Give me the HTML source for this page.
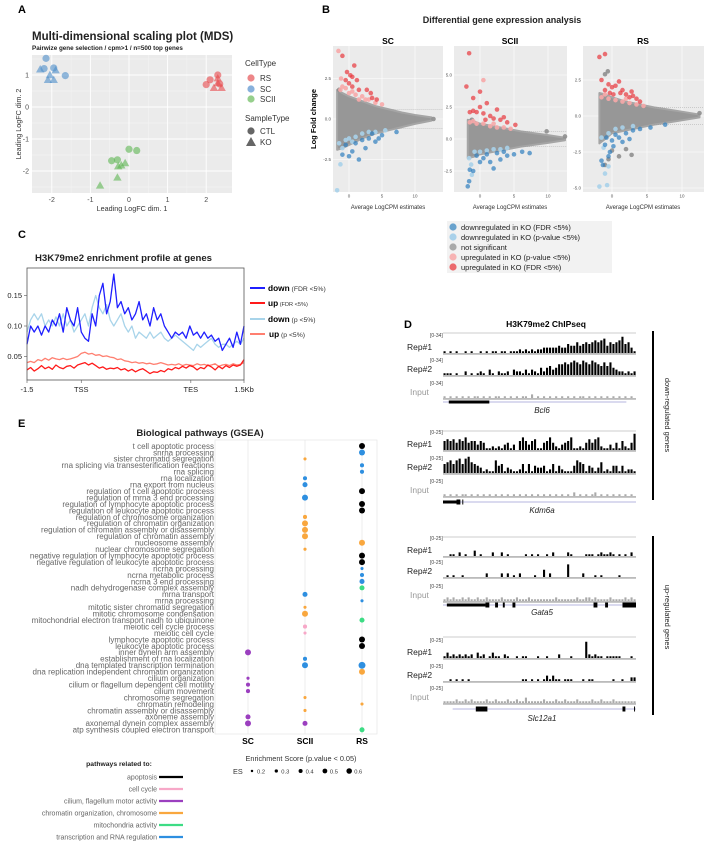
<!DOCTYPE html>
<html><head><meta charset="utf-8"><title>Figure</title>
<style>
html,body{margin:0;padding:0;background:#fff;}
svg{display:block;font-family:"Liberation Sans",Arial,sans-serif;}
</style></head>
<body>
<svg id="fig" width="709" height="846" viewBox="0 0 709 846" xmlns="http://www.w3.org/2000/svg">
<!-- Panel A -->
<g>
<text x="18" y="13" font-size="11" font-weight="bold">A</text>
<text x="32" y="40" font-size="11.5" font-weight="bold" fill="#222">Multi-dimensional scaling plot (MDS)</text>
<text x="32" y="50" font-size="6.3" font-weight="bold" fill="#222">Pairwize gene selection / cpm&gt;1 / n=500 top genes</text>
<rect x="32" y="55" width="200" height="138" fill="#ebebeb"/>
<g id="mdsGrid"></g>
<g id="mdsPts"></g>
<text x="132" y="211" font-size="7.2" fill="#333" text-anchor="middle">Leading LogFC dim. 1</text>
<text transform="translate(21,124) rotate(-90)" font-size="7.2" fill="#333" text-anchor="middle">Leading LogFC dim. 2</text>
<text x="245" y="66" font-size="8" fill="#333">CellType</text>
<circle cx="251" cy="78" r="3.6" fill="#e8686a" opacity="0.8"/>
<text x="260" y="81" font-size="8" fill="#333">RS</text>
<circle cx="251" cy="89" r="3.6" fill="#6a9ed3" opacity="0.8"/>
<text x="260" y="92" font-size="8" fill="#333">SC</text>
<circle cx="251" cy="99" r="3.6" fill="#7cc36f" opacity="0.8"/>
<text x="260" y="102" font-size="8" fill="#333">SCII</text>
<text x="245" y="121" font-size="8" fill="#333">SampleType</text>
<circle cx="251" cy="131" r="3.6" fill="#666"/>
<text x="260" y="134" font-size="8" fill="#333">CTL</text>
<polygon points="246,146 256,146 251,137" fill="#666"/>
<text x="260" y="145" font-size="8" fill="#333">KO</text>
</g>
<!-- Panel B -->
<g>
<text x="322" y="13" font-size="11" font-weight="bold">B</text>
<text x="502" y="23" font-size="9" font-weight="bold" fill="#222" text-anchor="middle">Differential gene expression analysis</text>
<text x="388" y="44" font-size="8.5" font-weight="bold" text-anchor="middle">SC</text>
<text x="510" y="44" font-size="8.5" font-weight="bold" text-anchor="middle">SCII</text>
<text x="643" y="44" font-size="8.5" font-weight="bold" text-anchor="middle">RS</text>
<g id="maPlots"></g>
<text transform="translate(316,119) rotate(-90)" font-size="7.5" font-weight="bold" text-anchor="middle">Log Fold change</text>
<text x="388" y="209" font-size="6" fill="#333" text-anchor="middle">Average LogCPM estimates</text>
<text x="510" y="209" font-size="6" fill="#333" text-anchor="middle">Average LogCPM estimates</text>
<text x="643" y="209" font-size="6" fill="#333" text-anchor="middle">Average LogCPM estimates</text>
<g>
<rect x="447" y="221" width="165" height="52" fill="#f2f2f2"/>
<circle cx="453" cy="227" r="3.6" fill="#3a87c0" opacity="0.75"/>
<text x="461" y="230" font-size="7.5" fill="#222">downregulated in KO (FDR &lt;5%)</text>
<circle cx="453" cy="237" r="3.6" fill="#a9d1ea"/>
<text x="461" y="240" font-size="7.5" fill="#222">downregulated in KO (p-value &lt;5%)</text>
<circle cx="453" cy="247" r="3.6" fill="#aaa"/>
<text x="461" y="250" font-size="7.5" fill="#222">not significant</text>
<circle cx="453" cy="257" r="3.6" fill="#f7b3b3"/>
<text x="461" y="260" font-size="7.5" fill="#222">upregulated in KO (p-value &lt;5%)</text>
<circle cx="453" cy="267" r="3.6" fill="#e8474b" opacity="0.8"/>
<text x="461" y="270" font-size="7.5" fill="#222">upregulated in KO (FDR &lt;5%)</text>
</g>
</g>
<!-- Panel C -->
<g>
<text x="18" y="238" font-size="11" font-weight="bold">C</text>
<text x="35" y="261" font-size="9.6" font-weight="bold" fill="#222">H3K79me2 enrichment profile at genes</text>
<g id="profile"></g>
<rect x="27" y="268" width="217" height="112" fill="none" stroke="#555" stroke-width="0.8"/>
<g>
<line x1="250" y1="288" x2="265" y2="288" stroke="#1f1fff" stroke-width="2"/>
<text x="268" y="291" font-size="8.3"><tspan font-weight="bold">down</tspan><tspan font-size="6.8" fill="#333"> (FDR &lt;5%)</tspan></text>
<line x1="250" y1="303" x2="265" y2="303" stroke="#ff1a1a" stroke-width="2"/>
<text x="268" y="306" font-size="8.3"><tspan font-weight="bold">up</tspan><tspan font-size="5.6" fill="#333"> (FDR &lt;5%)</tspan></text>
<line x1="250" y1="319" x2="265" y2="319" stroke="#a8d4ea" stroke-width="2"/>
<text x="268" y="322" font-size="8.3"><tspan font-weight="bold">down</tspan><tspan font-size="6.8" fill="#333"> (p &lt;5%)</tspan></text>
<line x1="250" y1="334" x2="265" y2="334" stroke="#ff7f70" stroke-width="2"/>
<text x="269" y="337" font-size="8.3"><tspan font-weight="bold">up</tspan><tspan font-size="6.8" fill="#333"> (p &lt;5%)</tspan></text>
</g>
</g>
<!-- Panel D -->
<g>
<text x="404" y="328" font-size="11" font-weight="bold">D</text>
<text x="546" y="327" font-size="8.5" font-weight="bold" text-anchor="middle">H3K79me2 ChIPseq</text>
<g id="tracks"></g>
<line x1="653" y1="331" x2="653" y2="500" stroke="#000" stroke-width="2"/>
<text transform="translate(665,415) rotate(90)" font-size="7.5" fill="#222" text-anchor="middle">down-regulated genes</text>
<line x1="653" y1="536" x2="653" y2="715" stroke="#000" stroke-width="2"/>
<text transform="translate(665,617) rotate(90)" font-size="7.5" fill="#222" text-anchor="middle">up-regulated genes</text>
</g>
<!-- Panel E -->
<g>
<text x="18" y="427" font-size="11" font-weight="bold">E</text>
<text x="200" y="436" font-size="9.5" font-weight="bold" fill="#222" text-anchor="middle">Biological pathways (GSEA)</text>
<rect x="215" y="440" width="162" height="294" fill="#fff" stroke="#e3e3e3" stroke-width="0.6"/>
<g id="gsea"></g>
<text x="248" y="744" font-size="8.5" font-weight="bold" text-anchor="middle">SC</text>
<text x="305" y="744" font-size="8.5" font-weight="bold" text-anchor="middle">SCII</text>
<text x="362" y="744" font-size="8.5" font-weight="bold" text-anchor="middle">RS</text>
<text x="301" y="761" font-size="7.3" fill="#333" text-anchor="middle">Enrichment Score (p.value &lt; 0.05)</text>
<text x="233" y="774" font-size="7.3" fill="#333">ES</text>
<g id="esLegend"></g>
<text x="119" y="766" font-size="6.8" font-weight="bold" fill="#222" text-anchor="middle">pathways related to:</text>
<g id="pwLegend"></g>
</g>
</svg>
<script>
// ---------- Data ----------
// MDS (panel A)
const mdsCell = ["SC","SC","SC","SC","SC","SC","SC","SC","SC","RS","RS","RS","RS","RS","RS","RS","RS","SCII","SCII","SCII","SCII","SCII","SCII","SCII","SCII","SCII"];
const mdsType = ["CTL","CTL","CTL","CTL","KO","KO","KO","KO","KO","CTL","CTL","CTL","CTL","KO","KO","KO","KO","CTL","CTL","CTL","CTL","KO","KO","KO","KO","KO"];
const mdsDim1 = [-2.15,-2.2,-1.65,-1.95,-2.3,-2.1,-1.95,-1.9,-2.05,2.3,2.1,2.0,2.35,2.3,2.4,2.2,2.3,0.0,0.2,-0.45,-0.3,-0.75,-0.3,-0.1,-0.28,-0.2];
const mdsDim2 = [1.52,1.2,0.98,1.22,1.18,0.85,0.85,1.15,1.0,1.0,0.85,0.7,0.72,0.75,0.6,0.6,0.9,-1.32,-1.36,-1.68,-1.65,-2.45,-2.2,-1.75,-1.85,-1.82];
const mdsXTicks = [-2,-1,0,1,2];
const mdsYTicks = [1,0,-1,-2];

// MA plots (panel B)
const maPanels = ["SC","SCII","RS"];
const cloudX = [-1.8,-1,0,2,4,6,8,10,12.5];
const cloudUpper = {SC:[1.8,1.6,1.4,1.1,0.8,0.6,0.4,0.25,0.1], SCII:[1.5,1.4,1.2,1.0,0.8,0.6,0.45,0.3,0.1], RS:[1.6,1.5,1.3,1.0,0.8,0.6,0.45,0.3,0.1]};
const cloudLower = {SC:[-1.9,-1.8,-1.6,-1.2,-0.9,-0.7,-0.5,-0.3,-0.1], SCII:[-1.5,-1.4,-1.2,-1.0,-0.8,-0.6,-0.45,-0.3,-0.1], RS:[-1.9,-1.6,-1.2,-1.0,-0.8,-0.6,-0.45,-0.3,-0.1]};
const maYTicks = {SC:[2.5,0,-2.5], SCII:[5,2.5,0,-2.5], RS:[2.5,0,-2.5,-5]};
const maXTicks = [0,5,10];
const grayX = {SC:[-1.5,12.8], SCII:[-1.2,9.8,12.5], RS:[-1,-0.6,1,2,2.8,-1,-0.5,0,12.5]};
const grayY = {SC:[1.8,0.0], SCII:[1.5,0.6,0.2], RS:[2.9,3.1,-2.8,-2.3,-2.7,-3.4,-3.0,-2.4,0.2]};
const upFdrX = {SC:[-1,0.8,-0.3,0.2,0.5,1.2,2.7,3.3,4.2,0,0.5,1.5,-0.5,3.5], SCII:[-1.6,-2,0,-1,-1,-0.5,0,1,0.5,1.5,2,3,3.5,4,5.2,-1.5,0.8,2.5], RS:[-1.8,-1,-1.5,-0.5,0,0.5,1,1.5,2,2.5,3,3.5,4,-1,0.2,1.2,2.8,-0.3]};
const upFdrY = {SC:[3.9,3.3,2.9,2.7,2.6,2.4,1.8,1.6,1.2,2.2,2.0,1.8,2.4,1.3], SCII:[6.7,4.1,3.7,3.2,2.2,2.1,2.5,2.8,2.0,1.8,1.6,1.5,1.7,1.3,1.1,2.1,1.5,2.3], RS:[4.1,4.3,2.5,2.2,2.0,2.1,2.4,1.8,1.5,1.3,1.4,1.2,1.0,1.8,1.5,1.6,1.7,1.6]};
const upPX = {SC:[-1.6,-1.2,-0.5,0.5,1,2,2.5,3,4,5,-1,0,1.5,-1.3], SCII:[0.5,-1.5,-0.5,0.5,1.5,2.5,3.5,4.5,-1,2], RS:[-1.5,-0.5,0.5,1.5,2.5,3.5,-1,4.5,2]};
const upPY = {SC:[4.2,2.5,1.9,1.7,1.5,1.4,1.2,1.2,1.0,0.9,2.0,1.6,1.2,1.8], SCII:[4.6,1.3,1.2,1.2,1.0,0.9,0.9,0.8,1.4,1.2], RS:[1.3,1.2,1.1,1.0,0.9,0.8,1.5,0.7,1.2]};
const downFdrX = {SC:[-1,0.5,1,2,3,4,5,7.2,-0.5,1.5,2.5,4.5,0,3.5], SCII:[-1.8,-1.6,-1.5,-1,0,0.5,1,2,3,4,5,6.2,7.3,-0.5,1.5,2.5,3.5], RS:[-1.5,-1.3,-0.5,-0.3,0,0.5,1,1.5,2,2.5,3,4,5.5,7.6,-1,-0.8,0.2]};
const downFdrY = {SC:[-2.2,-2,-1.5,-1.3,-1.2,-1.4,-1,-0.8,-1.6,-2.5,-1.8,-1.2,-2.3,-0.9], SCII:[-3.7,-3.3,-2.4,-2.5,-1.8,-1.5,-1.2,-2.3,-1.6,-1.3,-1.2,-1.0,-1.1,-1.3,-1.8,-1.1,-1.0], RS:[-3.1,-3.4,-2.8,-2.5,-1.7,-1.3,-1.5,-1.8,-1.2,-1.6,-1.0,-0.9,-0.8,-0.6,-2.0,-1.5,-2.1]};
const downPX = {SC:[-1.8,-1.3,-1,0,1,2,3,-0.5,-1.5,0.5,4,5.5], SCII:[-1.2,-1.6,-0.8,0,1,2,3,4,-1.3], RS:[-1.8,-0.7,-1,-0.5,-1.2,-0.5,0.5,1.5,3,-1.5]};
const downPY = {SC:[-4.4,-2.8,-1.8,-1.2,-1.1,-0.9,-0.8,-1.3,-1.5,-1.4,-0.8,-0.7], SCII:[-2.8,-1.5,-1.0,-1.0,-0.9,-0.8,-0.8,-0.7,-2.0], RS:[-4.9,-4.8,-4.0,-3.5,-2.2,-1.2,-0.9,-0.8,-0.7,-1.5]};

// Profile (panel C)
const profDownFdr = [0.07,0.10,0.09,0.10,0.085,0.10,0.09,0.11,0.10,0.12,0.09,0.13,0.11,0.10,0.13,0.09,0.08,0.075,0.12,0.10,0.15,0.17,0.12,0.14,0.185,0.13,0.14,0.12,0.13,0.11,0.12,0.14,0.11,0.12,0.10,0.13,0.11,0.12,0.10,0.09,0.08,0.09,0.085,0.09,0.08,0.10,0.085,0.09,0.08,0.09,0.08,0.085,0.075,0.08,0.06,0.07,0.08,0.065,0.09,0.07,0.10];
const profDownP = [0.09,0.11,0.12,0.11,0.12,0.10,0.11,0.10,0.115,0.10,0.12,0.10,0.11,0.09,0.10,0.11,0.12,0.10,0.13,0.15,0.13,0.12,0.135,0.11,0.10,0.11,0.12,0.10,0.09,0.10,0.08,0.09,0.085,0.08,0.09,0.08,0.085,0.09,0.08,0.075,0.08,0.085,0.08,0.075,0.07,0.065,0.06,0.07,0.065,0.07,0.075,0.08,0.07,0.065,0.07,0.07,0.065,0.07,0.075,0.07,0.08];
const profUpP = [0.04,0.042,0.04,0.045,0.043,0.047,0.044,0.048,0.046,0.045,0.047,0.045,0.046,0.048,0.05,0.055,0.057,0.054,0.055,0.052,0.053,0.05,0.051,0.049,0.048,0.045,0.046,0.043,0.042,0.04,0.041,0.039,0.04,0.038,0.039,0.037,0.038,0.04,0.038,0.036,0.037,0.036,0.038,0.035,0.037,0.036,0.035,0.038,0.036,0.037,0.035,0.036,0.038,0.034,0.036,0.037,0.035,0.038,0.036,0.037,0.04];
const profUpFdr = [0.028,0.032,0.026,0.03,0.035,0.03,0.033,0.029,0.036,0.032,0.03,0.034,0.035,0.031,0.036,0.038,0.04,0.036,0.039,0.035,0.031,0.033,0.029,0.031,0.03,0.032,0.028,0.03,0.026,0.029,0.025,0.028,0.03,0.026,0.022,0.025,0.024,0.027,0.025,0.03,0.028,0.032,0.03,0.034,0.031,0.035,0.033,0.028,0.032,0.03,0.036,0.033,0.028,0.034,0.03,0.035,0.032,0.036,0.034,0.036,0.045];
const profYTicks = [0.15,0.10,0.05];
const profXLabels = ["-1.5","TSS","TES","1.5Kb"];
const profXPos = [0,0.25,0.755,1];

// ChIP tracks (panel D) — bar heights 0-9
const trackGenes = ["Bcl6","Kdm6a","Gata5","Slc12a1"];
const trackRanges = ["[0-34]","[0-25]","[0-25]","[0-25]"];
const rep1Heights = [
 [1,0,1,0,1,0,0,1,0,1,0,0,1,0,1,0,1,1,0,1,1,0,1,1,1,2,1,2,1,2,1,2,2,3,3,3,3,3,4,3,3,5,4,4,6,4,5,6,5,6,7,6,7,8,4,6,5,6,7,9,5,6,3,1],
 [5,6,5,6,4,6,5,7,4,5,5,3,5,4,1,1,2,1,2,1,3,4,1,3,0,5,7,5,3,5,6,1,1,4,5,7,4,2,1,3,4,5,7,1,1,2,1,4,6,4,6,7,2,1,1,3,1,4,1,5,2,1,4,9],
 [0,0,1,1,0,2,0,1,0,0,3,0,1,0,0,0,2,0,0,2,0,1,0,0,0,0,0,1,0,1,0,1,0,0,1,0,2,0,0,0,0,2,1,0,0,0,0,1,1,1,0,1,2,1,1,2,1,0,1,0,1,0,2,0],
 [1,3,1,2,1,2,1,2,1,2,0,3,1,2,0,1,3,1,1,0,2,1,0,0,1,0,1,1,0,0,0,1,0,0,1,0,0,0,2,0,0,0,1,0,0,0,0,9,2,1,2,1,1,0,1,1,1,1,1,0,0,0,1,0]];
const rep2Heights = [
 [1,1,1,0,1,0,0,2,0,1,0,1,2,1,0,3,1,0,2,1,1,2,0,3,2,2,1,3,1,3,2,1,4,2,4,5,3,4,6,6,7,6,7,8,7,6,8,7,6,8,7,6,5,7,5,7,4,3,2,2,1,2,1,2],
 [5,6,7,5,7,8,5,8,9,6,5,4,3,1,2,1,1,7,4,5,1,3,2,1,1,2,5,1,5,1,4,3,3,4,1,2,5,1,4,2,1,1,1,4,7,6,5,1,4,3,1,3,6,1,2,1,4,4,1,4,1,2,2,1],
 [0,1,0,1,0,0,1,0,0,0,0,0,0,0,2,0,0,0,0,2,0,2,0,1,0,2,0,0,0,0,1,0,0,4,0,2,0,0,0,0,0,7,0,0,0,0,2,0,0,0,1,0,1,0,0,0,0,0,1,0,0,0,0,0],
 [0,0,1,0,1,0,1,0,1,0,0,0,0,0,0,0,0,0,0,0,0,0,0,0,0,0,1,1,0,1,0,1,0,1,3,1,3,1,1,0,1,1,1,0,0,0,1,0,1,1,0,0,0,0,0,0,1,0,0,1,0,0,2,2]];
const inputHeights = [
 [1,0,1,0,1,0,1,0,1,0,1,1,0,1,0,1,0,1,1,0,1,0,1,0,1,0,1,1,0,2,0,1,0,1,0,1,0,1,0,1,0,1,0,1,0,1,1,0,1,0,1,0,1,0,1,0,1,0,1,0,1,0,1,0],
 [1,0,1,0,1,0,1,1,0,1,0,1,0,1,0,1,0,1,0,1,0,1,0,1,0,1,0,1,0,1,0,1,0,1,0,1,0,1,0,1,0,1,0,2,0,1,0,1,0,1,2,0,1,0,1,0,1,0,1,0,1,0,1,0],
 [1,2,1,2,1,1,2,1,2,1,1,2,1,1,2,1,1,1,1,2,1,1,1,1,2,1,1,1,2,1,1,1,1,1,1,1,1,2,1,1,1,1,1,1,2,1,1,2,2,1,2,1,1,1,1,2,1,1,1,1,2,1,2,1],
 [1,1,1,1,2,1,1,2,1,2,1,1,1,1,2,1,1,2,1,1,1,2,1,1,2,1,1,3,1,1,1,1,1,2,1,1,1,2,1,1,2,1,1,1,2,1,1,1,1,2,1,1,2,1,1,1,2,1,1,1,1,1,1,1]];

// GSEA (panel E)
const gseaTerms = ["t cell apoptotic process","snrna processing","sister chromatid segregation","rna splicing via transesterification reactions","rna splicing","rna localization","rna export from nucleus","regulation of t cell apoptotic process","regulation of mrna 3 end processing","regulation of lymphocyte apoptotic process","regulation of leukocyte apoptotic process","regulation of chromosome organization","regulation of chromatin organization","regulation of chromatin assembly or disassembly","regulation of chromatin assembly","nucleosome assembly","nuclear chromosome segregation","negative regulation of lymphocyte apoptotic process","negative regulation of leukocyte apoptotic process","ncrna processing","ncrna metabolic process","ncrna 3 end processing","nadh dehydrogenase complex assembly","mrna transport","mrna processing","mitotic sister chromatid segregation","mitotic chromosome condensation","mitochondrial electron transport nadh to ubiquinone","meiotic cell cycle process","meiotic cell cycle","lymphocyte apoptotic process","leukocyte apoptotic process","inner dynein arm assembly","establishment of rna localization","dna templated transcription termination","dna replication independent chromatin organization","cilium organization","cilium or flagellum dependent cell motility","cilium movement","chromosome segregation","chromatin remodeling","chromatin assembly or disassembly","axoneme assembly","axonemal dynein complex assembly","atp synthesis coupled electron transport"];
const gseaCols = ["SC","SCII","RS"];
const dotTerm = [0,1,2,3,4,5,6,7,8,9,10,11,12,13,14,15,16,17,18,19,20,21,22,23,24,25,26,27,28,29,30,31,32,33,34,34,35,36,37,38,39,40,41,42,43,43,44];
const dotCol = ["RS","RS","SCII","RS","RS","SCII","SCII","RS","SCII","RS","RS","SCII","SCII","SCII","SCII","RS","SCII","RS","RS","RS","RS","RS","RS","SCII","RS","SCII","SCII","RS","SCII","SCII","RS","RS","SC","SCII","SCII","RS","RS","SC","SC","SC","SCII","RS","SCII","SC","SC","SCII","RS"];
const dotES = [0.5,0.5,0.2,0.3,0.3,0.3,0.4,0.5,0.5,0.5,0.5,0.3,0.5,0.5,0.5,0.5,0.2,0.5,0.5,0.2,0.3,0.4,0.4,0.4,0.2,0.2,0.5,0.4,0.3,0.2,0.5,0.5,0.5,0.3,0.5,0.6,0.5,0.2,0.3,0.3,0.2,0.2,0.2,0.4,0.5,0.4,0.4];
const dotCat = ["apoptosis","transcription","chromatin","transcription","transcription","transcription","transcription","apoptosis","transcription","apoptosis","apoptosis","chromatin","chromatin","chromatin","chromatin","chromatin","chromatin","apoptosis","apoptosis","transcription","transcription","transcription","mito","transcription","transcription","chromatin","chromatin","mito","cellcycle","cellcycle","apoptosis","apoptosis","cilium","transcription","transcription","transcription","chromatin","cilium","cilium","cilium","chromatin","chromatin","chromatin","cilium","cilium","cilium","mito"];
const esLegendValues = [0.2,0.3,0.4,0.5,0.6];
const pathwayKeys = ["apoptosis","cellcycle","cilium","chromatin","mito","transcription"];
const pathwayLabels = ["apoptosis","cell cycle","cilium, flagellum motor activity","chromatin organization, chromosome","mitochondria activity","transcription and RNA regulation"];

// ---------- Helpers ----------
const NS = "http://www.w3.org/2000/svg";
function mk(tag, attrs, parent){ const e=document.createElementNS(NS,tag); for(const k in attrs) e.setAttribute(k,attrs[k]); parent.appendChild(e); return e; }
function byId(id){ return document.getElementById(id); }

// ---------- Panel A ----------
(function(){
  const g=byId('mdsGrid'), p=byId('mdsPts');
  const sx=v=>129+v*38.6, sy=v=>107-v*32;
  [-1.5,-0.5,0.5,1.5].forEach(v=>{ const l=mk('line',{x1:sx(v),x2:sx(v),y1:55,y2:193,stroke:'#f5f5f5','stroke-width':0.5},g);   });
  [1.5,0.5,-0.5,-1.5,-2.5].forEach(v=>{ const l=mk('line',{x1:32,x2:232,y1:sy(v),y2:sy(v),stroke:'#f5f5f5','stroke-width':0.5},g);   });
  mdsXTicks.forEach(v=>{
    const l=mk('line',{x1:sx(v),x2:sx(v),y1:55,y2:193,stroke:'#fff','stroke-width':0.9},g);
     
    const t=mk('text',{x:sx(v),y:202,'font-size':7,fill:'#4d4d4d','text-anchor':'middle'},g); t.textContent=v;
     
  });
  mdsYTicks.forEach(v=>{
    const l=mk('line',{x1:32,x2:232,y1:sy(v),y2:sy(v),stroke:'#fff','stroke-width':0.9},g);
     
    const t=mk('text',{x:29,y:sy(v)+2.5,'font-size':7,fill:'#4d4d4d','text-anchor':'end'},g); t.textContent=v;
     
  });
  const col={RS:'#e8474b',SC:'#4d8ec9',SCII:'#5db552'};
  mdsDim1.forEach((d1,i)=>{
    const x=sx(d1), y=sy(mdsDim2[i]); let e;
    if(mdsType[i]==='CTL') e=mk('circle',{cx:x,cy:y,r:3.6,fill:col[mdsCell[i]],opacity:0.6},p);
    else e=mk('polygon',{points:`${x-4.2},${y+3.2} ${x+4.2},${y+3.2} ${x},${y-4.2}`,fill:col[mdsCell[i]],opacity:0.6},p);
     
  });
})();

// ---------- Panel B ----------
(function(){
  const root=byId('maPlots');
  const geo={
    SC:{x0:333,x1:443,y0:46,y1:192,cx:349,kx:6.6,cy:119,ky:16.2},
    SCII:{x0:454,x1:567,y0:46,y1:192,cx:480,kx:6.8,cy:139,ky:12.8},
    RS:{x0:583,x1:704,y0:46,y1:192,cx:612,kx:7.0,cy:116,ky:14.4}};
  maPanels.forEach(pn=>{
    const G=geo[pn]; const sx=v=>G.cx+v*G.kx, sy=v=>G.cy-v*G.ky;
    const g=mk('g',{},root);  
    const bg=mk('rect',{x:G.x0,y:G.y0,width:G.x1-G.x0,height:G.y1-G.y0,fill:'#ebebeb'},g);
     
    maYTicks[pn].forEach(v=>{
      const l=mk('line',{x1:G.x0,x2:G.x1,y1:sy(v),y2:sy(v),stroke:'#fff','stroke-width':0.6},g);
       
      const t=mk('text',{x:G.x0-2,y:sy(v)+1.5,'font-size':4.5,fill:'#555','text-anchor':'end'},g); t.textContent=v.toFixed(1);
       
    });
    maXTicks.forEach(v=>{
      const l=mk('line',{x1:sx(v),x2:sx(v),y1:G.y0,y2:G.y1,stroke:'#fff','stroke-width':0.6},g);
       
      const t=mk('text',{x:sx(v),y:G.y1+5.5,'font-size':4.5,fill:'#555','text-anchor':'middle'},g); t.textContent=v;
       
    });
    let d='M'+cloudX.map((x,i)=>sx(x)+','+sy(cloudUpper[pn][i])).join(' L');
    for(let i=cloudX.length-1;i>=0;i--) d+=' L'+sx(cloudX[i])+','+sy(cloudLower[pn][i]);
    d+=' Z';
    const c=mk('path',{d:d,fill:'#979797',stroke:'#a5a5a5','stroke-width':2,'stroke-linejoin':'round'},g);
     
    const dash1=mk('line',{x1:sx(6),x2:G.x1,y1:sy(0.6),y2:sy(0.6),stroke:'#999','stroke-width':0.4,'stroke-dasharray':'1,1'},g);
     
    const dash2=mk('line',{x1:sx(6),x2:G.x1,y1:sy(-0.6),y2:sy(-0.6),stroke:'#999','stroke-width':0.4,'stroke-dasharray':'1,1'},g);
     
    const sets=[[grayX,grayY,'#8f8f8f',0.9,'ma-point-ns'],[upPX,upPY,'#f7a9a8',0.9,'ma-point-up-p'],[downPX,downPY,'#a9d1ea',0.9,'ma-point-down-p'],[upFdrX,upFdrY,'#e8383d',0.7,'ma-point-up-fdr'],[downFdrX,downFdrY,'#2f7fbf',0.7,'ma-point-down-fdr']];
    sets.forEach(s=>{
      s[0][pn].forEach((xv,i)=>{
        const e=mk('circle',{cx:sx(xv),cy:sy(s[1][pn][i]),r:2.3,fill:s[2],opacity:s[3]},g);
         
      });
    });
  });
})();

// ---------- Panel C ----------
(function(){
  const g=byId('profile');
  const X0=27,W=217; const sy=v=>326-(v-0.10)*610;
  profYTicks.forEach(v=>{
    const t=mk('text',{x:22,y:sy(v)+2.5,'font-size':7.5,fill:'#222','text-anchor':'end'},g); t.textContent=v.toFixed(2);
     
    const k=mk('line',{x1:24,x2:27,y1:sy(v),y2:sy(v),stroke:'#555','stroke-width':0.6},g);
     
  });
  profXLabels.forEach((s,i)=>{
    const x=X0+profXPos[i]*W;
    const t=mk('text',{x:x,y:392,'font-size':7.5,fill:'#222','text-anchor':'middle'},g); t.textContent=s;
     
    const k=mk('line',{x1:x,x2:x,y1:380,y2:383,stroke:'#555','stroke-width':0.6},g);
     
  });
  const series=[[profUpP,'#ff7f70','profile-line-up-p'],[profUpFdr,'#ff1a1a','profile-line-up-fdr'],[profDownP,'#a8d4ea','profile-line-down-p'],[profDownFdr,'#1f1fff','profile-line-down-fdr']];
  series.forEach(s=>{
    const arr=s[0]; const n=arr.length-1;
    const pts=arr.map((v,i)=>(X0+i/n*W).toFixed(1)+','+sy(v).toFixed(1)).join(' ');
    const l=mk('polyline',{points:pts,fill:'none',stroke:s[1],'stroke-width':1.3,'stroke-linejoin':'round'},g);
     
  });
})();

// ---------- Panel D ----------
(function(){
  const root=byId('tracks');
  const X0=443,X1=636;
  const layout=[
    {top:333,r1:353,r2:375,inp:398,gene:402,lab:413},
    {top:431,r1:450,r2:473,inp:496,gene:502,lab:513},
    {top:537,r1:556,r2:577,inp:601,gene:605,lab:615},
    {top:637,r1:658,r2:681,inp:703,gene:709,lab:721}];
  const geneBlocks=[
    [[0.03,0.24,3]],
    [[0,0.07,3],[0.07,0.09,5],[0.1,0.105,5]],
    [[0.02,0.22,3],[0.22,0.24,5],[0.27,0.285,5],[0.31,0.32,5],[0.36,0.375,5],[0.78,0.8,5],[0.84,0.855,5],[0.93,1,5]],
    [[0.17,0.23,5],[0.93,0.945,5],[0.99,0.995,5]]];
  trackGenes.forEach((gn,k)=>{
    const L=layout[k];
    const g=mk('g',{},root);  
    const tl=mk('line',{x1:X0,x2:X1,y1:L.top,y2:L.top,stroke:'#999','stroke-width':0.6},g);
     
    const rows=[['Rep#1',L.r1,rep1Heights[k],'#000','#222'],['Rep#2',L.r2,rep2Heights[k],'#000','#222'],['Input',L.inp,inputHeights[k],'#aaa','#999']];
    rows.forEach((r,ri)=>{
      const base=r[1];
      const rg=mk('text',{x:430,y:base-(ri===0?16:13),'font-size':5,fill:'#444'},g); rg.textContent=trackRanges[k];
       
      const lb=mk('text',{x:ri===2?410:407,y:base-3,'font-size':8.5,fill:r[4]},g); lb.textContent=r[0];
       
      const bl=mk('rect',{x:X0,y:base,width:X1-X0,height:1.8,fill:'#bbb'},g);
       
      const arr=r[2]; const bw=(X1-X0)/arr.length;
      let d='';
      arr.forEach((h,i)=>{ if(h>0){ const hh=h*1.8; d+=`M${(X0+i*bw+0.5).toFixed(1)},${base} h${(bw*0.7).toFixed(1)} v-${hh.toFixed(1)} h-${(bw*0.7).toFixed(1)}Z`; } });
      const bars=mk('path',{d:d,fill:r[3]},g);
       
    });
    const gl=mk('line',{x1:X0+(k===3?0.05*(X1-X0):0),x2:X1-(k===0?0.05*(X1-X0):0),y1:L.gene,y2:L.gene,stroke:'#6f6fbf','stroke-width':0.6},g);
     
    geneBlocks[k].forEach(b=>{
      const e=mk('rect',{x:X0+b[0]*(X1-X0),y:L.gene-b[2]/2,width:(b[1]-b[0])*(X1-X0),height:b[2],fill:'#000'},g);
       
    });
    const gt=mk('text',{x:542,y:L.lab,'font-size':8,'font-style':'italic',fill:'#222','text-anchor':'middle'},g); gt.textContent=gn;
     
  });
})();

// ---------- Panel E ----------
(function(){
  const g=byId('gsea');
  const colX={SC:248,SCII:305,RS:362};
  const rowY=i=>446+i*6.45;
  const colors={apoptosis:'#000',cellcycle:'#f7a8c8',cilium:'#9b3fbf',chromatin:'#f9a73e',mito:'#3ddc84',transcription:'#2e8fe0'};
  const rad=es=>0.6+es*4.8;
  gseaCols.forEach(c=>{
    const l=mk('line',{x1:colX[c],x2:colX[c],y1:440,y2:734,stroke:'#e6e6e6','stroke-width':0.7},g);
     
  });
  gseaTerms.forEach((t,i)=>{
    const e=mk('text',{x:214,y:rowY(i)+2.8,'font-size':8,fill:'#666','text-anchor':'end'},g); e.textContent=t;
     
  });
  dotTerm.forEach((ti,i)=>{
    const e=mk('circle',{cx:colX[dotCol[i]],cy:rowY(ti),r:rad(dotES[i]),fill:colors[dotCat[i]]},g);
     
  });
  const L=byId('esLegend');
  esLegendValues.forEach((v,i)=>{
    const x=252+i*24.3;
    const c=mk('circle',{cx:x,cy:771,r:rad(v)*0.8,fill:'#000'},L);
     
    const t=mk('text',{x:x+5,y:773.5,'font-size':5.8,fill:'#333'},L); t.textContent=v.toFixed(1);
     
  });
  const P=byId('pwLegend');
  pathwayKeys.forEach((k,i)=>{
    const y=777+i*12;
    const t=mk('text',{x:157,y:y+2.5,'font-size':7,fill:'#666','text-anchor':'end'},P); t.textContent=pathwayLabels[i];
     
    const l=mk('line',{x1:159,x2:183,y1:y,y2:y,stroke:colors[k],'stroke-width':2.2},P);
     
  });
})();
</script>
</body></html>
